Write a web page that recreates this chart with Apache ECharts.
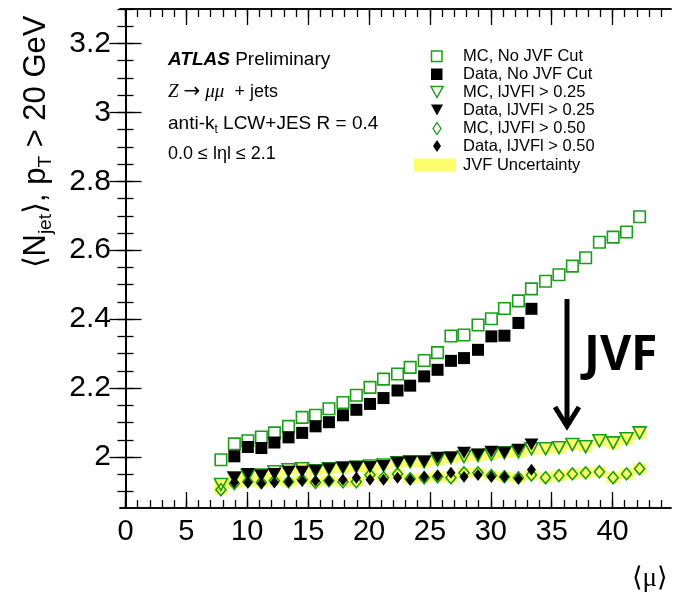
<!DOCTYPE html>
<html><head><meta charset="utf-8">
<script src="https://cdn.jsdelivr.net/npm/echarts@6/dist/echarts.min.js"></script>
<style>html,body{margin:0;padding:0;background:#fff}#c{width:673px;height:595px}</style>
</head><body><div id="c"></div>
<script>
// ---- data ----
const muMC = [7.84, 8.94, 10.05, 11.16, 12.23, 13.39, 14.51, 15.61, 16.71, 17.86, 18.96, 20.08, 21.19, 22.34, 23.38, 24.53,
  25.63, 26.73, 27.80, 28.95, 30.05, 31.12, 32.27, 33.34, 34.50, 35.60, 36.70, 37.79, 38.92, 40.05, 41.15, 42.22];
const muData = [8.94, 10.05, 11.16, 12.23, 13.39, 14.51, 15.61, 16.71, 17.86, 18.96, 20.08, 21.19, 22.34, 23.38, 24.53,
  25.63, 26.73, 27.80, 28.95, 30.05, 31.12, 32.27, 33.34];
const mcNoCut = [1.992, 2.038, 2.047, 2.058, 2.070, 2.089, 2.115, 2.121, 2.140, 2.158, 2.179, 2.202, 2.226, 2.241, 2.260, 2.280,
  2.303, 2.351, 2.354, 2.383, 2.401, 2.431, 2.453, 2.488, 2.510, 2.529, 2.554, 2.578, 2.623, 2.638, 2.653, 2.697];
const dataNoCut = [2.002, 2.029, 2.026, 2.042, 2.057, 2.070, 2.089, 2.101, 2.121, 2.137, 2.154, 2.171, 2.193, 2.207, 2.234,
  2.253, 2.279, 2.287, 2.311, 2.350, 2.352, 2.389, 2.430];
const mcJvf25 = [1.920, 1.940, 1.946, 1.948, 1.957, 1.963, 1.966, 1.960, 1.966, 1.969, 1.971, 1.974, 1.977, 1.983, 1.986, 1.986,
  1.992, 1.998, 2.001, 2.004, 2.007, 2.012, 2.015, 2.024, 2.024, 2.027, 2.036, 2.030, 2.047, 2.041, 2.053, 2.070];
const dataJvf25 = [1.940, 1.951, 1.946, 1.951, 1.957, 1.957, 1.960, 1.966, 1.969, 1.971, 1.971, 1.974, 1.983, 1.986, 1.986,
  1.998, 1.998, 2.012, 2.007, 2.015, 2.012, 2.021, 2.036];
const mcJvf50 = [1.905, 1.923, 1.928, 1.926, 1.931, 1.928, 1.934, 1.926, 1.931, 1.928, 1.928, 1.948, 1.940, 1.951, 1.937, 1.940,
  1.943, 1.940, 1.954, 1.954, 1.946, 1.943, 1.940, 1.948, 1.940, 1.946, 1.951, 1.954, 1.957, 1.940, 1.951, 1.966];
const dataJvf50 = [1.926, 1.926, 1.923, 1.926, 1.928, 1.931, 1.931, 1.931, 1.934, 1.940, 1.934, 1.934, 1.940, 1.934, 1.943,
  1.946, 1.954, 1.943, 1.948, 1.943, 1.943, 1.937, 1.963];
const jvfUnc25 = [0.015, 0.015, 0.015, 0.015, 0.015, 0.015, 0.015, 0.015, 0.015, 0.015, 0.015, 0.015, 0.015, 0.015, 0.015, 0.015,
  0.015, 0.015, 0.015, 0.015, 0.015, 0.015, 0.015, 0.016, 0.016, 0.016, 0.016, 0.016, 0.016, 0.017, 0.017, 0.017];
const jvfUnc50 = [0.014, 0.014, 0.014, 0.014, 0.014, 0.014, 0.014, 0.014, 0.014, 0.014, 0.014, 0.014, 0.014, 0.014, 0.014, 0.014,
  0.014, 0.014, 0.014, 0.014, 0.014, 0.014, 0.014, 0.015, 0.015, 0.015, 0.015, 0.015, 0.015, 0.016, 0.016, 0.016];
const xMajorTicks = [0, 5, 10, 15, 20, 25, 30, 35, 40];
const yMajorTicks = [2.0, 2.2, 2.4, 2.6, 2.8, 3.0, 3.2];
const legendNames = ['MC, No JVF Cut', 'Data, No JVF Cut', 'MC, lJVFl > 0.25', 'Data, lJVFl > 0.25',
  'MC, lJVFl > 0.50', 'Data, lJVFl > 0.50', 'JVF Uncertainty'];

// ---- layout / style ----
const X0 = -0.45, X1 = 44.8, Y0 = 1.852, Y1 = 3.3;
const GREEN = '#1a9e1a', YELLOW = '#fdfd6b', FONT = 'Liberation Sans';
const xMinor = []; for (let i = 0; i <= 44; i++) xMinor.push(i);
const yMinor = []; for (let i = 0; i <= 29; i++) yMinor.push(+(1.85 + 0.05 * i).toFixed(2));

function xAx(pos, ticks, len, labels) {
  return { type: 'value', min: X0, max: X1, position: pos, gridIndex: 0,
    axisLine: { show: true, lineStyle: { color: '#000', width: 1.5 } },
    axisTick: { show: true, inside: true, length: len, customValues: ticks, lineStyle: { color: '#000', width: 1.3 } },
    axisLabel: labels ? { show: true, customValues: xMajorTicks, color: '#000', fontSize: 29, fontFamily: FONT, margin: 9 } : { show: false },
    splitLine: { show: false } };
}
function yAx(pos, ticks, len, labels) {
  return { type: 'value', min: Y0, max: Y1, position: pos, gridIndex: 0,
    axisLine: { show: true, lineStyle: { color: '#000', width: 1.5 } },
    axisTick: { show: true, inside: true, length: len, customValues: ticks, lineStyle: { color: '#000', width: 1.3 } },
    axisLabel: labels ? { show: true, customValues: yMajorTicks, color: '#000', fontSize: 30, fontFamily: FONT, margin: 9,
      formatter: v => String(Math.round(v * 10) / 10) } : { show: false },
    splitLine: { show: false } };
}
const pts = (xs, ys) => xs.map((x, i) => [x, ys[i]]);
const band = (xs, ys, es) => xs.map((x, i) => [x, ys[i], es[i]]);
function bandItem(params, api) {
  const x = api.value(0), y = api.value(1), e = api.value(2);
  const a = api.coord([x - 0.555, y + e]), b = api.coord([x + 0.555, y - e]);
  return { type: 'rect', shape: { x: a[0], y: a[1], width: b[0] - a[0], height: b[1] - a[1] }, style: { fill: YELLOW } };
}
const openStyle = { color: 'rgba(0,0,0,0)', borderColor: GREEN, borderWidth: 1.6, opacity: 1 };
const fillStyle = { color: '#000', opacity: 1 };

const chart = echarts.init(document.getElementById('c'), null, { renderer: 'canvas' });
chart.setOption({
  animation: false,
  backgroundColor: '#fff',
  grid: { left: 120, top: 9, width: 551, height: 499, containLabel: false },
  xAxis: [xAx('bottom', xMajorTicks, 16, true), xAx('bottom', xMinor, 8, false), xAx('top', xMajorTicks, 16, false), xAx('top', xMinor, 8, false)],
  yAxis: [yAx('left', yMajorTicks, 16, true), yAx('left', yMinor, 8, false), yAx('right', yMajorTicks, 16, false), yAx('right', yMinor, 8, false)],
  series: [
    { type: 'custom', name: 'JVF Uncertainty', renderItem: bandItem, data: band(muMC, mcJvf25, jvfUnc25), clip: true, z: 1 },
    { type: 'custom', name: 'JVF Uncertainty 50', renderItem: bandItem, data: band(muMC, mcJvf50, jvfUnc50), clip: true, z: 1 },
    { type: 'scatter', name: 'MC, No JVF Cut', data: pts(muMC, mcNoCut), symbol: 'rect', symbolSize: 11.5, itemStyle: openStyle, z: 3 },
    { type: 'scatter', name: 'Data, No JVF Cut', data: pts(muData, dataNoCut), symbol: 'rect', symbolSize: 12, itemStyle: fillStyle, z: 4 },
    { type: 'scatter', name: 'MC, |JVF| > 0.25', data: pts(muMC, mcJvf25), symbol: 'triangle', symbolRotate: 180, symbolSize: [13, 12], itemStyle: openStyle, z: 3 },
    { type: 'scatter', name: 'Data, |JVF| > 0.25', data: pts(muData, dataJvf25), symbol: 'triangle', symbolRotate: 180, symbolSize: [14, 12], itemStyle: fillStyle, z: 4 },
    { type: 'scatter', name: 'MC, |JVF| > 0.50', data: pts(muMC, mcJvf50), symbol: 'diamond', symbolSize: [10, 12], itemStyle: openStyle, z: 3 },
    { type: 'scatter', name: 'Data, |JVF| > 0.50', data: pts(muData, dataJvf50), symbol: 'diamond', symbolSize: [9, 12], itemStyle: fillStyle, z: 4 }
  ],
  graphic: [
    // y axis title
    { type: 'text', x: 36, y: 142, rotation: Math.PI / 2, z: 10,
      style: { text: '⟨N{s|jet}⟩, p{s|T} > 20 GeV', fill: '#000', font: '31px "Liberation Sans"', align: 'center', verticalAlign: 'middle',
        lineHeight: 38, rich: { s: { fontSize: 19, fontFamily: FONT, verticalAlign: 'bottom', lineHeight: 16, fill: '#000' } } } },
    // x axis title
    { type: 'text', x: 668, y: 579, z: 10, style: { text: '⟨μ⟩', fill: '#000', font: '27px "Liberation Serif"', align: 'right', verticalAlign: 'middle' } },
    // ATLAS block
    { type: 'text', x: 168, y: 60, z: 10, style: { text: '{b|ATLAS} Preliminary', fill: '#000', font: '19px "Liberation Sans"', verticalAlign: 'middle',
      rich: { b: { fontWeight: 'bold', fontStyle: 'italic', fontSize: 19, fontFamily: FONT } } } },
    { type: 'text', x: 168, y: 92, z: 10, style: { text: '{i|Z} {a|→} {i|μμ}  + jets', fill: '#000', font: '18px "Liberation Sans"', verticalAlign: 'middle',
      rich: { i: { fontStyle: 'italic', fontSize: 19, fontFamily: 'Liberation Serif' }, a: { fontSize: 20, fontFamily: 'DejaVu Sans' } } } },
    { type: 'text', x: 168, y: 124, z: 10, style: { text: 'anti-k{s|t} LCW+JES R = 0.4', fill: '#000', font: '19px "Liberation Sans"', verticalAlign: 'middle',
      lineHeight: 24, rich: { s: { fontSize: 12, fontFamily: FONT, verticalAlign: 'bottom', lineHeight: 11 } } } },
    { type: 'text', x: 168, y: 154, z: 10, style: { text: '0.0 ≤ lηl ≤ 2.1', fill: '#000', font: '18px "Liberation Sans"', verticalAlign: 'middle' } },
    // legend markers
    { type: 'rect', shape: { x: 431.5, y: 51, width: 10.5, height: 10.5 }, style: { fill: 'none', stroke: GREEN, lineWidth: 1.5 }, z: 10 },
    { type: 'rect', shape: { x: 431, y: 68.5, width: 11.5, height: 11.5 }, style: { fill: '#000' }, z: 10 },
    { type: 'polygon', shape: { points: [[431, 86.5], [443, 86.5], [437, 97.5]] }, style: { fill: 'none', stroke: GREEN, lineWidth: 1.5 }, z: 10 },
    { type: 'polygon', shape: { points: [[431, 104.5], [443, 104.5], [437, 115.5]] }, style: { fill: '#000' }, z: 10 },
    { type: 'polygon', shape: { points: [[437, 122.5], [441, 128.5], [437, 134.5], [433, 128.5]] }, style: { fill: 'none', stroke: GREEN, lineWidth: 1.3 }, z: 10 },
    { type: 'polygon', shape: { points: [[437, 140], [441, 146], [437, 152], [433, 146]] }, style: { fill: '#000' }, z: 10 },
    { type: 'rect', shape: { x: 414, y: 158.5, width: 42, height: 13 }, style: { fill: YELLOW }, z: 10 },
    ...legendNames.map((t, i) => ({ type: 'text', x: 463, y: [56, 74, 92, 110, 128, 146, 165][i], z: 10,
      style: { text: t, fill: '#000', font: '16.5px "Liberation Sans"', verticalAlign: 'middle' } })),
    // JVF annotation
    { type: 'text', x: 584, y: 356, z: 10, style: { text: 'JVF', fill: '#000', font: 'bold 48px "Open Sans"', verticalAlign: 'middle' } },
    { type: 'line', shape: { x1: 567, y1: 299, x2: 567, y2: 424 }, style: { stroke: '#000', lineWidth: 5 }, z: 10 },
    { type: 'polyline', shape: { points: [[555, 407], [567, 426], [579, 407]] }, style: { stroke: '#000', lineWidth: 5, fill: 'none', lineJoin: 'miter' }, z: 10 }
  ]
});
</script></body></html>
